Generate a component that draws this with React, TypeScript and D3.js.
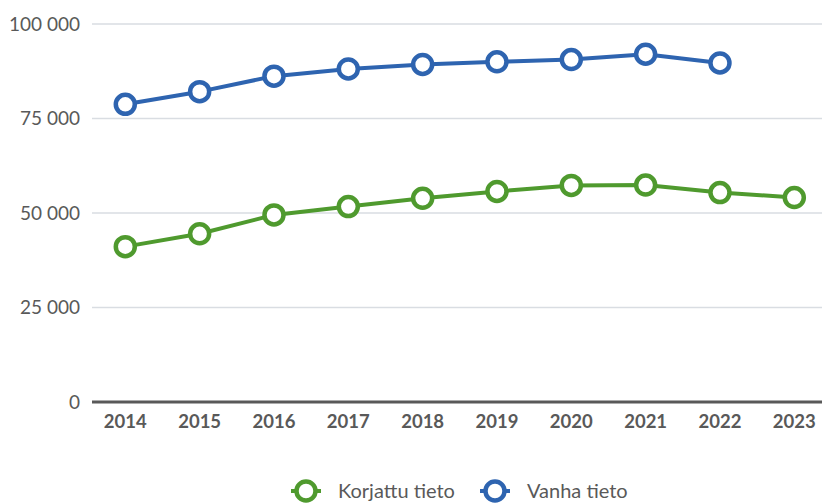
import React from "react";
import * as d3 from "d3";

const years = ["2014","2015","2016","2017","2018","2019","2020","2021","2022","2023"];
const korjattu = [41100, 44500, 49500, 51700, 53900, 55700, 57300, 57400, 55400, 54100];
const vanha = [78750, 82100, 86200, 88100, 89300, 90000, 90600, 92000, 89700];
const yTicks = [0, 25000, 50000, 75000, 100000];
const seriesNames = ["Korjattu tieto", "Vanha tieto"];

const GREEN = "#4f9a2e";
const BLUE = "#2e64b0";
const TEXT = "#595959";
const FONT = "'Source Sans Pro', Lato, 'Noto Sans', sans-serif";

export default function App() {
  const W = 822, H = 503;
  const left = 92, right = 822, top = 24, bottom = 402;
  const x = d3.scalePoint<string>().domain(years).range([125.3, 794.3]);
  const y = d3.scaleLinear().domain([0, 100000]).range([bottom, top]);
  const line = d3.line<number>().x((_, i) => x(years[i])!).y((d) => y(d));
  const fmt = (v: number) => d3.format(",")(v).replace(/,/g, " ");

  const series = [
    { name: seriesNames[0], data: korjattu, color: GREEN },
    { name: seriesNames[1], data: vanha, color: BLUE },
  ];

  const legend = [
    { name: seriesNames[0], color: GREEN, mx: 306, tx: 338 },
    { name: seriesNames[1], color: BLUE, mx: 495, tx: 527 },
  ];

  return (
    <svg width={W} height={H} style={{ position: "absolute", left: 0, top: 0 }} fontFamily={FONT}>
      {yTicks.map((t) => (
        <g key={t}>
          {t !== 0 && (
            <line x1={left} x2={right} y1={y(t)} y2={y(t)} stroke="#d9dde2" strokeWidth={1.5} />
          )}
          <text x={80} y={y(t)} dy="0.35em" textAnchor="end" fontSize={19} fill={TEXT}>
            {fmt(t)}
          </text>
        </g>
      ))}
      <line x1={left} x2={right} y1={y(0)} y2={y(0)} stroke={TEXT} strokeWidth={3} />
      {years.map((yr) => (
        <text key={yr} x={x(yr)} y={422} dy="0.35em" textAnchor="middle" fontSize={18.5} fontWeight="bold" fill={TEXT}>
          {yr}
        </text>
      ))}
      {series.map((s) => (
        <g key={s.name}>
          <path d={line(s.data) || ""} fill="none" stroke={s.color} strokeWidth={4} strokeLinejoin="round" />
          {s.data.map((v, i) => (
            <circle key={i} cx={x(years[i])} cy={y(v)} r={9.5} fill="#fff" stroke={s.color} strokeWidth={4.5} />
          ))}
        </g>
      ))}
      {legend.map((l) => (
        <g key={l.name}>
          <line x1={l.mx - 15} x2={l.mx + 15} y1={491} y2={491} stroke={l.color} strokeWidth={4} />
          <circle cx={l.mx} cy={491} r={9.5} fill="#fff" stroke={l.color} strokeWidth={4.5} />
          <text x={l.tx} y={491} dy="0.35em" fontSize={20} fill={TEXT}>{l.name}</text>
        </g>
      ))}
    </svg>
  );
}
